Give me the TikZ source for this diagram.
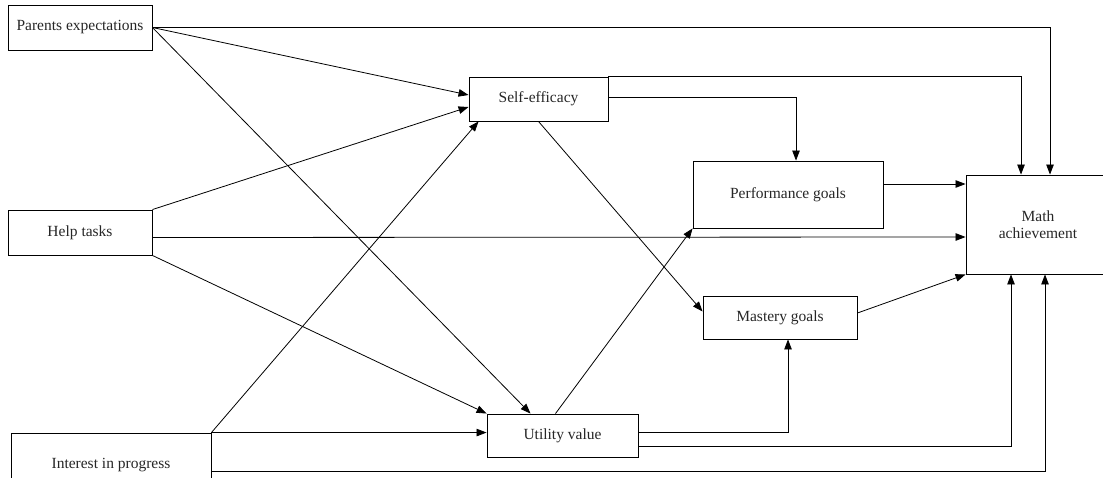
\documentclass[tikz,border=0pt]{standalone}
\usepackage{fontspec}
\setmainfont{Liberation Serif}
\usetikzlibrary{arrows.meta, calc}

\begin{document}
\begin{tikzpicture}[x = 1pt, y = -1pt,
        every node/.style = {font = \fontsize{15.5}{17.5}\selectfont, text = black!85},
        box/.style = {draw, line width = 0.9pt, inner sep = 0pt, align = center},
        link/.style = {line width = 0.8pt, -{Triangle[length = 10pt, width = 7.5pt]}}]
    \useasboundingbox (0, 0) rectangle (1103, 478);
    \clip (0, 0) rectangle (1103, 478);
    % predictors
    \node[box, minimum width = 144pt, minimum height = 45pt] (parents) at (80, 27.5) {Parents expectations};
    \node[box, minimum width = 144pt, minimum height = 45pt] (help) at (80, 232.5) {Help tasks};
    \node[box, minimum width = 200pt, minimum height = 64pt] (interest) at (111, 465) {Interest in progress};
    % mediators
    \node[box, minimum width = 139pt, minimum height = 44pt] (selfeff) at (538.5, 99) {Self-efficacy};
    \node[box, minimum width = 151pt, minimum height = 43pt] (utility) at (562.5, 435.5) {Utility value};
    \node[box, minimum width = 190pt, minimum height = 67pt] (perform) at (788, 194.5) {Performance goals};
    \node[box, minimum width = 154pt, minimum height = 43pt] (mastery) at (780, 317.5) {Mastery goals};
    % outcome
    \node[box, minimum width = 144pt, minimum height = 99pt] (math) at (1038, 224.5) {Math\\achievement};
    % from parents expectations
    \draw[link] (parents.east) -- ($(selfeff.west) + (0, -4)$);
    \draw[link] (parents.east) -- ($(utility.north) + (-32, 0)$);
    \draw[link] (parents.east) -| ($(math.north) + (12, 0)$);
    % from help tasks
    \draw[link] (help.north east) -- ($(selfeff.west) + (0, 8)$);
    \draw[link] ($(help.east) + (0, 5)$) -- ($(math.west) + (0, 12.5)$);
    \draw[link] (help.south east) -- (utility.north west);
    % from interest in progress
    \draw[link] (interest.north east) -- ($(selfeff.south west) + (10, 0)$);
    \draw[link] (interest.north east) -- (interest.north east -| utility.west);
    \draw[link] ($(interest.north east) + (0, 39)$) -| ($(math.south) + (7, 0)$);
    % from self-efficacy
    \draw[link] (selfeff.north east) -| ($(math.north) + (-17, 0)$);
    \draw[link] ($(selfeff.east) + (0, -2)$) -| ($(perform.north) + (8, 0)$);
    \draw[link] (selfeff.south) -- ($(mastery.west) + (0, -6)$);
    % from utility value
    \draw[link] ($(utility.north) + (-7, 0)$) -- (perform.south west);
    \draw[link] ($(utility.east) + (0, -3.5)$) -| ($(mastery.south) + (8, 0)$);
    \draw[link] ($(utility.east) + (0, 10.5)$) -| ($(math.south) + (-27, 0)$);
    % goals to achievement
    \draw[link] ($(perform.east) + (0, -10.5)$) -- ($(math.west) + (0, -40.5)$);
    \draw[link] ($(mastery.east) + (0, -4.5)$) -- (math.south west);
\end{tikzpicture}
\end{document}
